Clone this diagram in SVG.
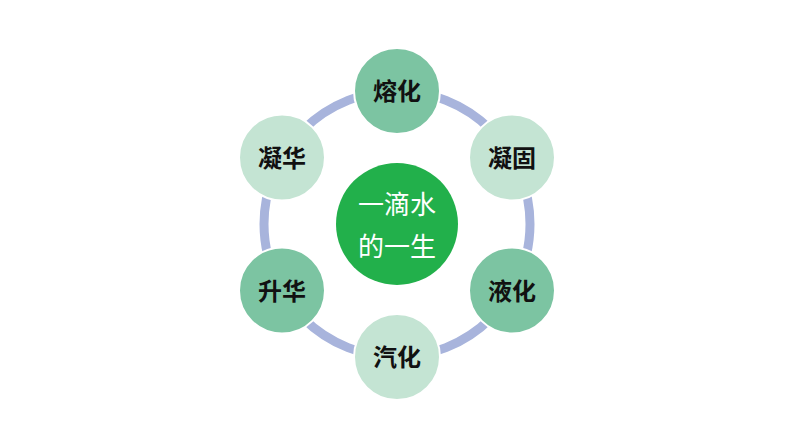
<svg xmlns="http://www.w3.org/2000/svg" width="794" height="447" viewBox="0 0 794 447">
<style>
.ring{fill:none;stroke:#a8b4dc;stroke-width:9}
.dark{fill:#7cc4a2;stroke:#ffffff;stroke-width:2}
.light{fill:#c4e4d3;stroke:#ffffff;stroke-width:2}
.lbl{font-family:"Noto Sans CJK SC","Noto Sans",sans-serif;font-size:24px;font-weight:bold;fill:#111111;text-anchor:middle}
.ctr{font-family:"Noto Sans CJK SC","Noto Sans",sans-serif;font-size:26px;fill:#ffffff;text-anchor:middle}
</style>
<rect width="794" height="447" fill="#ffffff"/>
<g id="connectors">
<circle class="ring" cx="397" cy="224" r="133"/>
</g>
<g id="center">
<circle cx="397" cy="224" r="61" fill="#22b04b"/>
<text class="ctr" x="397" y="214">一滴水</text>
<text class="ctr" x="397" y="256">的一生</text>
</g>
<g id="node-ronghua">
<circle class="dark" cx="397" cy="91" r="43"/>
<text class="lbl" x="397" y="100">熔化</text>
</g>
<g id="node-ninggu">
<circle class="light" cx="512" cy="157.5" r="43"/>
<text class="lbl" x="512" y="166.5">凝固</text>
</g>
<g id="node-yehua">
<circle class="dark" cx="512" cy="290.5" r="43"/>
<text class="lbl" x="512" y="299.5">液化</text>
</g>
<g id="node-qihua">
<circle class="light" cx="397" cy="357" r="43"/>
<text class="lbl" x="397" y="366">汽化</text>
</g>
<g id="node-shenghua">
<circle class="dark" cx="282" cy="290.5" r="43"/>
<text class="lbl" x="282" y="299.5">升华</text>
</g>
<g id="node-ninghua">
<circle class="light" cx="282" cy="157.5" r="43"/>
<text class="lbl" x="282" y="166.5">凝华</text>
</g>
</svg>
